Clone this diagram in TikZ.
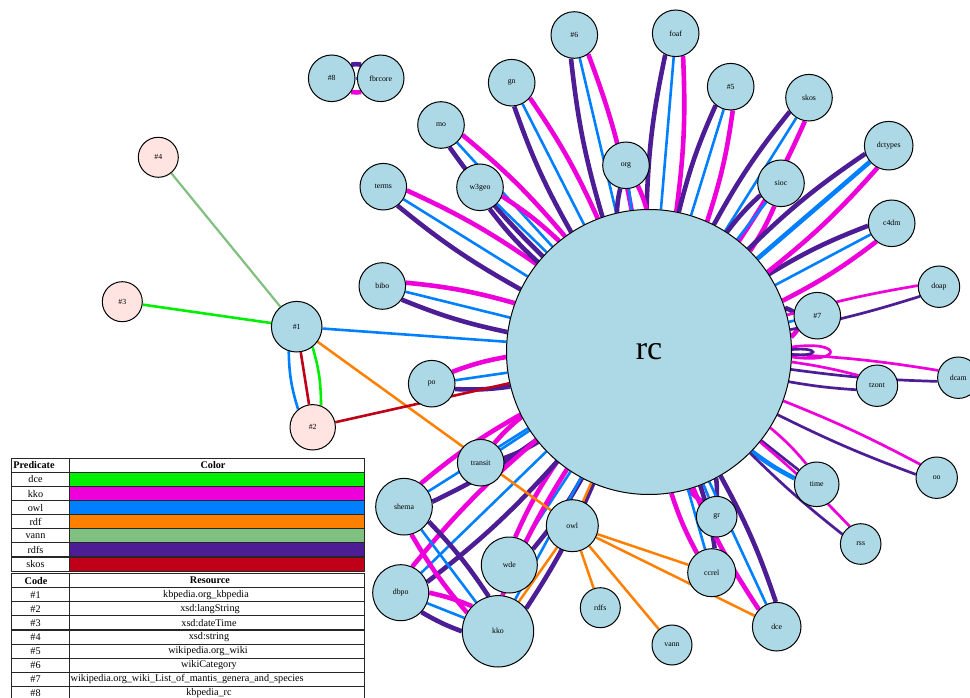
\documentclass[tikz,border=0pt]{standalone}
\usepackage{fontspec}
\setmainfont{Liberation Serif}
\usetikzlibrary{calc}

% predicate colours
\definecolor{dceC}{RGB}{0,240,0}
\definecolor{kkoC}{RGB}{238,0,218}
\definecolor{owlC}{RGB}{0,128,255}
\definecolor{rdfC}{RGB}{255,128,0}
\definecolor{vannC}{RGB}{128,192,128}
\definecolor{rdfsC}{RGB}{76,29,148}
\definecolor{skosC}{RGB}{192,0,24}
% node fills
\definecolor{resC}{RGB}{173,216,230}
\definecolor{litC}{RGB}{255,228,225}

\pgfdeclarelayer{bg}
\pgfdeclarelayer{edges}
\pgfsetlayers{bg,edges,main}

\tikzset{
  res/.style={circle, draw=black, line width=1pt, fill=resC, inner sep=0pt,
              font=\fontsize{7.8}{9}\selectfont},
  lit/.style={res, fill=litC},
  sz/.style={minimum size=#1},
  kkoW/.style={draw=kkoC, line width=4.6pt},
  rdfsW/.style={draw=rdfsC, line width=4.6pt},
  owlW/.style={draw=owlC, line width=4.6pt},
  kkoN/.style={draw=kkoC, line width=2.7pt},
  rdfsN/.style={draw=rdfsC, line width=2.7pt},
  owlN/.style={draw=owlC, line width=2.6pt},
  rdfN/.style={draw=rdfC, line width=2.5pt},
  dceN/.style={draw=dceC, line width=2.6pt},
  vannN/.style={draw=vannC, line width=2.2pt},
  skosN/.style={draw=skosC, line width=2.6pt},
  cell/.style={draw=black!85, line width=1.1pt},
  lg/.style={inner sep=0pt, font=\fontsize{10.2}{12}\selectfont},
  lgB/.style={inner sep=0pt, font=\fontsize{10.2}{12}\selectfont\bfseries},
}

% two curved links on either side of the line from #1 to #2
% #3 spread at #1, #4 spread at #2, #5 bend, #6 left style, #7 right style
\newcommand\sidepair[7]{%
  \pgfpointdiff{\pgfpointanchor{#1}{center}}{\pgfpointanchor{#2}{center}}%
  \pgfgetlastxy{\dxA}{\dyA}%
  \pgfmathsetmacro\dirA{atan2(\dyA,\dxA)}%
  \pgfmathtruncatemacro\fromL{\dirA+#3}%
  \pgfmathtruncatemacro\fromR{\dirA-#3}%
  \pgfmathtruncatemacro\toL{\dirA+180-#4}%
  \pgfmathtruncatemacro\toR{\dirA+180+#4}%
  \draw[#6] (#1.\fromL) to[bend left=#5] (#2.\toL);
  \draw[#7] (#1.\fromR) to[bend right=#5] (#2.\toR);
}
% three links: left, straight middle, right
\newcommand\trio[8]{%
  \sidepair{#1}{#2}{#3}{#4}{#5}{#6}{#8}%
  \draw[#7] (#1) -- (#2);
}
% the usual kko / owl / rdfs fan towards rc
\newcommand\spoke[1]{\trio{#1}{rc}{22}{6}{5}{kkoW}{owlN}{rdfsW}}
% one row of table cells
\newcommand\cellrow[2]{%
  \draw[cell] (11.7,#1) rectangle ++(57.6,14.1);
  \draw[cell,#2] (69.3,#1) rectangle ++(295,14.1);
}

\begin{document}
\begin{tikzpicture}[x=1pt,y=-1pt]
\useasboundingbox (0,0) rectangle (970,698);
\begin{pgfonlayer}{bg}
  \fill[white] (0,0) rectangle (970,698);
\end{pgfonlayer}

% ---------- nodes ----------
\node[res, sz=285pt, font=\fontsize{34}{40}\selectfont] (rc) at (649,352) {rc};
\node[res, sz=46.6pt] (n8) at (331.7,78.3) {\#8};
\node[res, sz=46.6pt] (fbrcore) at (380.7,78.3) {fbrcore};
\node[res, sz=46.6pt] (n6) at (574.3,35) {\#6};
\node[res, sz=46.6pt] (foaf) at (675.7,33.3) {foaf};
\node[res, sz=46.6pt] (gn) at (511.7,82.7) {gn};
\node[res, sz=46.6pt] (n5) at (730.7,86.7) {\#5};
\node[res, sz=46.6pt] (skos) at (809,97.7) {skos};
\node[res, sz=46.6pt] (mo) at (441,125) {mo};
\node[res, sz=46.6pt] (org) at (626,165.3) {org};
\node[res, sz=48.6pt] (dctypes) at (888.7,145.7) {dctypes};
\node[res, sz=46.6pt] (terms) at (383.3,186.7) {terms};
\node[res, sz=46.6pt] (w3geo) at (480,187.3) {w3geo};
\node[res, sz=46.6pt] (sioc) at (781,183.3) {sioc};
\node[res, sz=46.6pt] (c4dm) at (891.7,223.3) {c4dm};
\node[res, sz=46.6pt] (bibo) at (382.3,286) {bibo};
\node[res, sz=41.4pt] (doap) at (939,286.7) {doap};
\node[res, sz=46.6pt] (n7) at (817.3,315.7) {\#7};
\node[res, sz=50.6pt] (n1) at (296.7,326.7) {\#1};
\node[lit, sz=40pt] (n4) at (158.3,157.3) {\#4};
\node[lit, sz=40pt] (n3) at (122.3,301.7) {\#3};
\node[res, sz=46.6pt] (po) at (431.7,383.7) {po};
\node[res, sz=41.4pt] (tzont) at (877,385.7) {tzont};
\node[res, sz=41.4pt] (dcam) at (958.3,377.7) {dcam};
\node[lit, sz=45.4pt] (n2) at (312.7,427.3) {\#2};
\node[res, sz=46.6pt] (transit) at (480.7,462.7) {transit};
\node[res, sz=41.4pt] (oo) at (936.7,477.7) {oo};
\node[res, sz=44.6pt] (time) at (816.7,484.3) {time};
\node[res, sz=56.6pt] (shema) at (404,506.7) {shema};
\node[res, sz=52pt] (owl) at (572.3,525.7) {owl};
\node[res, sz=40.6pt] (gr) at (716.7,516.7) {gr};
\node[res, sz=40.6pt] (rss) at (860.7,544) {rss};
\node[res, sz=56pt] (wde) at (509.3,565) {wde};
\node[res, sz=48pt] (ccrel) at (711.7,572.7) {ccrel};
\node[res, sz=56pt] (dbpo) at (400.7,592.7) {dbpo};
\node[res, sz=40pt] (rdfs) at (600.3,607.7) {rdfs};
\node[res, sz=71.4pt] (kko) at (498,631.3) {kko};
\node[res, sz=40pt] (vann) at (672,645) {vann};
\node[res, sz=48.6pt] (dce) at (776.7,626.7) {dce};

% ---------- links ----------
\begin{pgfonlayer}{edges}
  % fans into rc
  \spoke{n6} \spoke{foaf} \spoke{gn} \spoke{n5} \spoke{skos} \spoke{mo}
  \spoke{org} \spoke{terms} \spoke{w3geo} \spoke{sioc} \spoke{c4dm}
  \spoke{bibo} \spoke{n7} \spoke{po} \spoke{transit} \spoke{shema}
  \spoke{wde} \spoke{dbpo} \spoke{gr} \spoke{ccrel} \spoke{dce} \spoke{kko}
  \trio{dctypes}{rc}{22}{6}{5}{kkoW}{owlW}{rdfsW}
  \trio{rc}{time}{6}{24}{5}{kkoN}{rdfsN}{owlW}

  % kko / rdfs pairs
  \sidepair{rc}{doap}{3}{15}{3}{kkoN}{rdfsN}
  \sidepair{rc}{dcam}{3}{15}{3}{kkoN}{rdfsN}
  \sidepair{rc}{tzont}{4}{20}{3}{kkoN}{rdfsN}
  \sidepair{rc}{oo}{3}{15}{3}{kkoN}{rdfsN}
  \sidepair{rc}{rss}{3}{15}{3}{kkoN}{rdfsN}

  % self loops on rc
  \draw[kkoN] (rc.2) .. controls +(8:52pt) and +(-8:52pt) .. (rc.-2);
  \draw[rdfsN] (rc.1) .. controls +(5:28pt) and +(-5:28pt) .. (rc.-1);

  % links among the lower resources
  \trio{kko}{shema}{22}{22}{5}{kkoW}{owlN}{rdfsW}
  \trio{dbpo}{kko}{22}{22}{5}{kkoW}{owlN}{rdfsW}

  % #8 and fbrcore
  \draw[rdfsW] (n8.35) to[bend left=10] (fbrcore.145);
  \draw[owlN] (n8) -- (fbrcore);
  \draw[kkoW] (n8.-35) to[bend right=10] (fbrcore.-145);

  % #1 and its literals
  \draw[vannN] (n4) -- (n1);
  \draw[dceN] (n3) -- (n1);
  \draw[owlN] (n1) -- (rc);
  \draw[rdfN] (n1) -- (owl);
  \trio{n1}{n2}{28}{30}{8}{dceN}{skosN}{owlN}
  \draw[skosN] (n2) -- (rc);

  % rdf links from owl
  \draw[rdfN] (owl) -- (rc);
  \draw[rdfN] (owl) -- (kko);
  \draw[rdfN] (owl) -- (rdfs);
  \draw[rdfN] (owl) -- (vann);
  \draw[rdfN] (owl) -- (ccrel);
  \draw[rdfN] (owl) -- (dce);
\end{pgfonlayer}

% ---------- legend: predicates ----------
\cellrow{458.3}{}
\node[lgB] (ph1) at (34,465.35) {Predicate};
\node[lgB] (ph2) at (213,465.35) {Color};
\cellrow{472.4}{fill=dceC}  \node[lg] (pr1) at (35.5,479.45) {dce};
\cellrow{486.5}{fill=kkoC}  \node[lg] (pr2) at (35.5,493.55) {kko};
\cellrow{500.6}{fill=owlC}  \node[lg] (pr3) at (35.5,507.65) {owl};
\cellrow{514.7}{fill=rdfC}  \node[lg] (pr4) at (35.5,521.75) {rdf};
\cellrow{528.8}{fill=vannC} \node[lg] (pr5) at (35.5,535.85) {vann};
\cellrow{542.9}{fill=rdfsC} \node[lg] (pr6) at (35.5,549.95) {rdfs};
\cellrow{557.0}{fill=skosC} \node[lg] (pr7) at (35.5,564.05) {skos};

% ---------- legend: codes ----------
\cellrow{573.6}{}
\node[lgB] (ch1) at (36,580.65) {Code};
\node[lgB] (ch2) at (210,580.65) {Resource};
\cellrow{587.7}{} \node[lg] (cd1) at (35.5,594.75) {\#1};
\node[lg] (rs1) at (206,594.75) {kbpedia.org\_kbpedia};
\cellrow{601.8}{} \node[lg] (cd2) at (35.5,608.85) {\#2};
\node[lg] (rs2) at (210,608.85) {xsd:langString};
\cellrow{615.9}{} \node[lg] (cd3) at (35.5,622.95) {\#3};
\node[lg] (rs3) at (209,622.95) {xsd:dateTime};
\cellrow{630.0}{} \node[lg] (cd4) at (35.5,637.05) {\#4};
\node[lg] (rs4) at (209,637.05) {xsd:string};
\cellrow{644.1}{} \node[lg] (cd5) at (35.5,651.15) {\#5};
\node[lg] (rs5) at (208,651.15) {wikipedia.org\_wiki};
\cellrow{658.2}{} \node[lg] (cd6) at (35.5,665.25) {\#6};
\node[lg] (rs6) at (209,665.25) {wikiCategory};
\cellrow{672.3}{} \node[lg] (cd7) at (35.5,679.35) {\#7};
\node[lg, anchor=west] (rs7) at (70.5,679.35) {wikipedia.org\_wiki\_List\_of\_mantis\_genera\_and\_species};
\cellrow{686.4}{} \node[lg] (cd8) at (35.5,693.45) {\#8};
\node[lg] (rs8) at (209,693.45) {kbpedia\_rc};
\end{tikzpicture}
\end{document}
